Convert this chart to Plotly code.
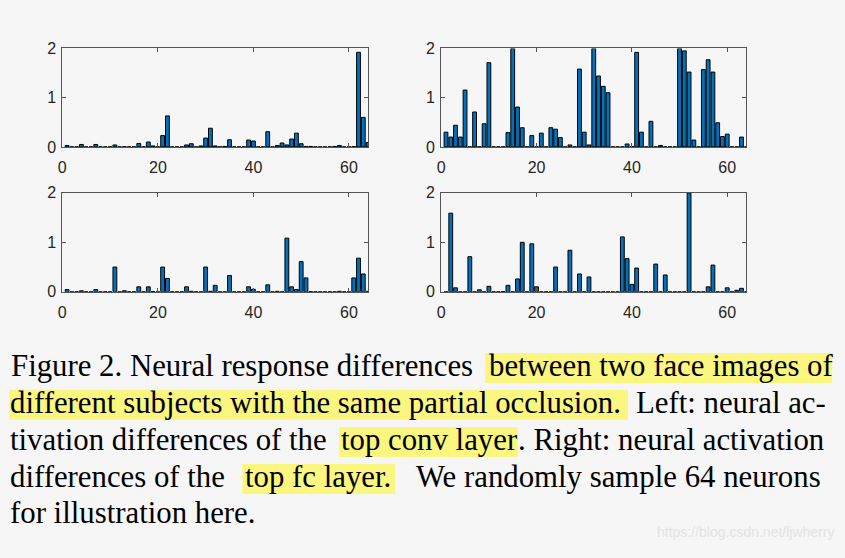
import plotly.graph_objects as go

# ---------------- data ----------------
neurons = list(range(1, 65))

def fill(d):
    return [d.get(i, 0.0) for i in neurons]

# top-left: top conv layer, pair A
conv_a = fill({1: 0.03, 4: 0.05, 7: 0.05, 11: 0.04, 13: 0.005, 16: 0.07, 18: 0.10, 19: 0.02,
               21: 0.23, 22: 0.63, 26: 0.04, 27: 0.065, 29: 0.02, 30: 0.18, 31: 0.38, 32: 0.02,
               34: 0.01, 35: 0.145, 39: 0.14, 40: 0.12, 43: 0.31, 45: 0.03, 46: 0.08, 47: 0.04,
               48: 0.16, 49: 0.28, 50: 0.065, 51: 0.01, 52: 0.01, 57: 0.01, 58: 0.03, 61: 0.005,
               62: 1.92, 63: 0.60, 64: 0.09})
# top-right: top fc layer, pair A
fc_a = fill({1: 0.30, 2: 0.20, 3: 0.44, 4: 0.20, 5: 1.155, 7: 0.71, 9: 0.47, 10: 1.71,
             14: 0.29, 15: 2.0, 16: 0.81, 17: 0.39, 19: 0.23, 21: 0.28, 23: 0.39, 24: 0.36,
             25: 0.19, 27: 0.04, 29: 1.58, 30: 0.30, 31: 0.04, 32: 2.0, 33: 1.44, 34: 1.23,
             35: 1.10, 39: 0.06, 40: 0.01, 41: 1.92, 42: 0.30, 44: 0.52, 46: 0.03, 50: 2.0,
             51: 1.95, 52: 1.52, 53: 0.14, 55: 1.57, 56: 1.77, 57: 1.52, 58: 0.49, 59: 0.21,
             60: 0.26, 63: 0.20})
# bottom-left: top conv layer, pair B
conv_b = fill({1: 0.045, 4: 0.02, 7: 0.045, 11: 0.50, 13: 0.02, 16: 0.10, 18: 0.10, 19: 0.005,
               21: 0.50, 22: 0.27, 26: 0.10, 27: 0.01, 30: 0.50, 31: 0.01, 32: 0.13, 35: 0.33,
               39: 0.10, 40: 0.05, 43: 0.14, 45: 0.01, 47: 1.085, 48: 0.10, 49: 0.045,
               50: 0.61, 51: 0.28, 52: 0.005, 58: 0.01, 61: 0.28, 62: 0.68, 63: 0.36, 64: 0.01})
# bottom-right: top fc layer, pair B
fc_b = fill({2: 1.59, 3: 0.08, 6: 0.71, 8: 0.04, 10: 0.11, 13: 0.005, 14: 0.13, 16: 0.26,
             17: 1.0, 19: 0.97, 20: 0.10, 24: 0.50, 27: 0.84, 29: 0.36, 31: 0.30, 38: 1.11,
             39: 0.67, 40: 0.15, 41: 0.48, 45: 0.56, 47: 0.34, 52: 2.0, 56: 0.10, 57: 0.54,
             60: 0.08, 62: 0.03, 63: 0.07})

x_ticks = [0, 20, 40, 60]
y_ticks = [0, 1, 2]

caption_lines = [
    [("Figure 2. Neural response differences", False), ("between two face images of", True)],
    [("different subjects with the same partial occlusion.", True), ("Left: neural ac-", False)],
    [("tivation differences of the", False), ("top conv layer", True), (". Right: neural activation", False)],
    [("differences of the", False), ("top fc layer.", True), ("We randomly sample 64 neurons", False)],
    [("for illustration here.", False)],
]
watermark = "https://blog.csdn.net/ljwherry"

# ---------------- layout helpers ----------------
W, H = 845, 558
BG = "#f6f6f6"
BAR = "#0072BD"
AX = "#555555"

def px(x):
    return x / W

def py(y):
    return 1 - y / H

# axes pixel boxes: (left, right, top(y=2), bottom(y=0))
boxes = [
    (58.6, 365.8, 41.7, 143.3),
    (439.3, 745.8, 41.7, 143.3),
    (58.6, 365.8, 190.7, 292.7),
    (439.3, 745.8, 190.7, 292.7),
]
series = [conv_a, fc_a, conv_b, fc_b]

fig = go.Figure()
layout = dict(
    width=W, height=H, margin=dict(l=0, r=0, t=0, b=0),
    paper_bgcolor=BG, plot_bgcolor=BG, showlegend=False,
    bargap=0.2,
)

for k, (vals, box) in enumerate(zip(series, boxes), start=1):
    xa = "x" if k == 1 else f"x{k}"
    ya = "y" if k == 1 else f"y{k}"
    fig.add_trace(go.Bar(
        x=neurons, y=vals, xaxis=xa, yaxis=ya, width=0.8,
        marker=dict(color=BAR, line=dict(color="#000000", width=1)),
        hoverinfo="skip",
    ))
    l, r, t, b = box
    axcommon = dict(
        showline=True, linecolor=AX, linewidth=1, mirror="allticks",
        ticks="inside", ticklen=4, tickcolor=AX, tickwidth=1,
        showgrid=False, zeroline=False,
        tickfont=dict(family="Liberation Sans, Arial", size=16, color="#262626"),
        fixedrange=True,
    )
    layout["xaxis" if k == 1 else f"xaxis{k}"] = dict(
        axcommon, domain=[px(l), px(r)], range=[0, 64],
        tickmode="array", tickvals=x_ticks, ticktext=[str(v) for v in x_ticks],
        anchor=ya, ticklabelstandoff=6,
    )
    layout["yaxis" if k == 1 else f"yaxis{k}"] = dict(
        axcommon, domain=[py(b), py(t)], range=[0, 2],
        tickmode="array", tickvals=y_ticks, ticktext=[str(v) for v in y_ticks],
        anchor=xa, ticklabelstandoff=2,
    )

fig.update_layout(**layout)

# ---------------- caption ----------------
seg_x = [
    [7, 487],
    [6, 635.5],
    [6, 339, 516.5],
    [6, 242, 413.6],
    [6],
]
hl_x = {(0, 1): (483.6, 832), (1, 0): (5.4, 627), (2, 1): (336.6, 516), (3, 1): (239.6, 393)}
baselines = [379.3, 417.3, 455.7, 493.8, 530.7]
FS = 30.8
shapes = []
annotations = []
for i, line in enumerate(caption_lines):
    base = baselines[i]
    for j, (txt, hl) in enumerate(line):
        if hl:
            x0, x1 = hl_x[(i, j)]
            shapes.append(dict(type="rect", xref="paper", yref="paper",
                               x0=px(x0), x1=px(x1), y0=py(base + 7.5), y1=py(base - 23.5),
                               fillcolor="#fbf67f", line=dict(width=0), layer="below"))
        annotations.append(dict(
            text=txt, xref="paper", yref="paper", x=px(seg_x[i][j]), y=py(base - 10),
            xanchor="left", yanchor="middle", showarrow=False, borderpad=0, borderwidth=0,
            font=dict(family="Liberation Serif, Times New Roman", size=FS, color="#000000"),
        ))

annotations.append(dict(
    text=watermark, xref="paper", yref="paper", x=px(835), y=py(540),
    xanchor="right", yanchor="middle", showarrow=False, borderpad=0,
    font=dict(family="Liberation Sans, Arial", size=14, color="#e3e3e3"),
))

fig.update_layout(shapes=shapes, annotations=annotations)
fig.write_html("out.html", config={"displayModeBar": False})
